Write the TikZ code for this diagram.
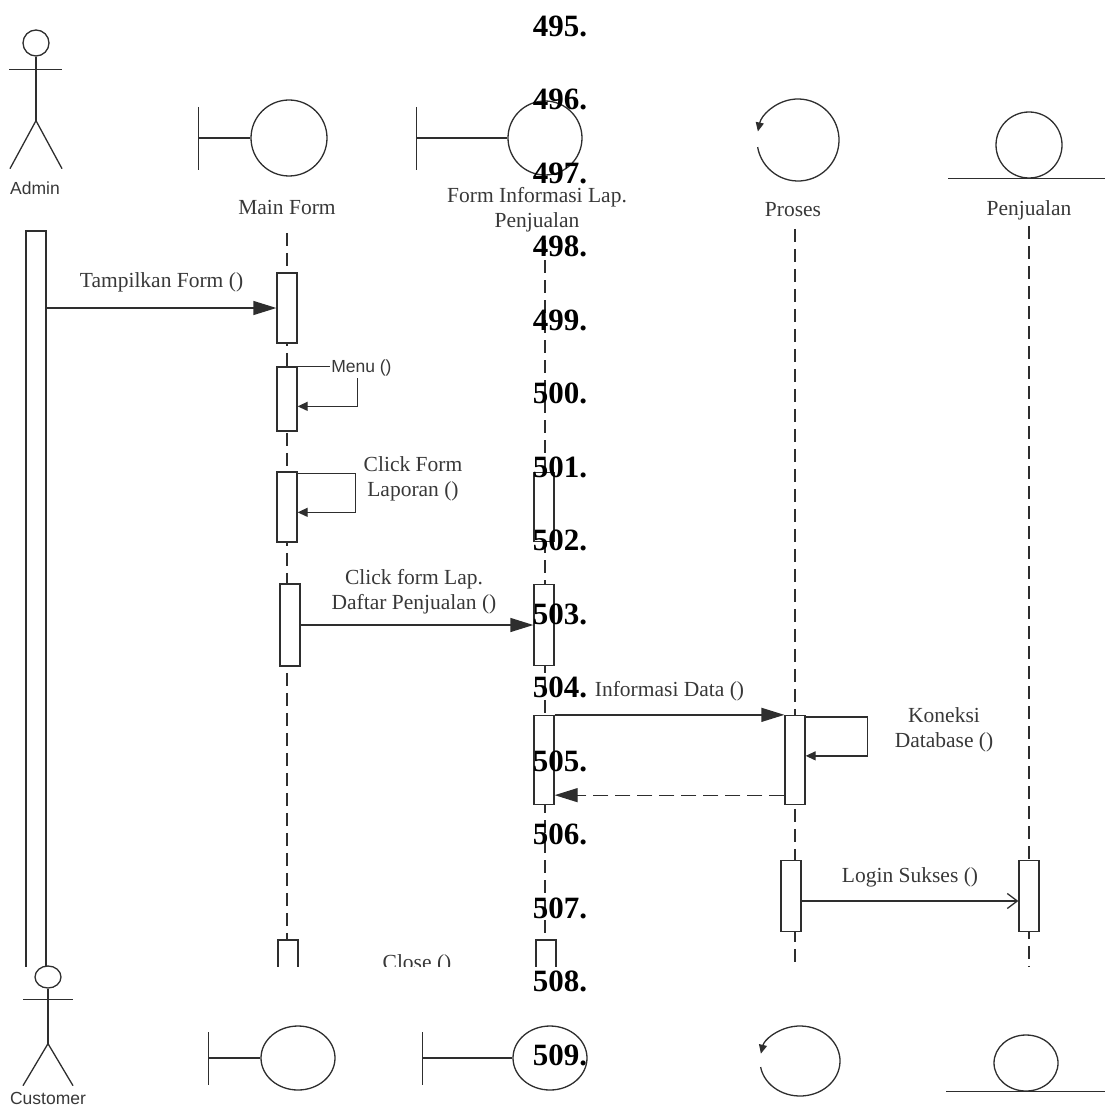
\documentclass[tikz,border=0pt]{standalone}
\usepackage{fontspec}
\setmainfont{Liberation Serif}
\setsansfont{Liberation Sans}
\usepackage{tikz}
\usetikzlibrary{arrows.meta,shapes.geometric}

\begin{document}
\begin{tikzpicture}[x=1pt,y=-1pt,line width=1.3pt,color=black!82,
                    >={Triangle[length=23pt,width=14pt]},node distance=73.5pt]
\tikzstyle{lbl}=[text=black!78,inner sep=1pt,align=center]
\tikzstyle{sanslbl}=[text=black!78,inner sep=1pt,font=\sffamily\fontsize{17.5pt}{20pt}\selectfont]
\tikzstyle{act}=[draw,fill=white,minimum width=20pt,inner sep=0pt]
\tikzstyle{pgnum}=[text=black,inner sep=0pt,font=\bfseries\fontsize{31pt}{36pt}\selectfont]
\tikzstyle{life}=[line width=1.1pt,dash pattern=on 13pt off 7pt]
\tikzstyle{self}=[-{Triangle[length=10pt,width=9pt]}]
\tikzstyle{procarr}=[-{Triangle[length=9pt,width=8pt]}]
\tikzset{font=\fontsize{21.5pt}{25pt}\selectfont}

\useasboundingbox (0,0) rectangle (1104,1107);

        % admin actor
        \node[draw,circle,minimum size=26pt,inner sep=0pt]        (admh) at (36,43) {};
        \draw (admh.south) -- ++(0,64) coordinate (admhip);
        \draw ([xshift=-27pt,yshift=-13pt]admh.south) -- ++(53,0);
        \draw (admhip) ++(-26,48) -- (admhip) -- ++(26,48);
        \node[sanslbl]                                             (adml) at (35,188) {Admin};

        % main form boundary
        \node[draw,circle,minimum size=76pt,inner sep=0pt]        (mfc)  at (289,138) {};
        \draw (mfc.west) -- ++(-52,0) coordinate (mfb);
        \draw (mfb) ++(0,-31) -- ++(0,63);
        \node[lbl]                                                 (mfl)  at (287,207) {Main Form};

        % form informasi boundary
        \node[draw,circle,minimum size=74pt,inner sep=0pt]        (fic)  at (545,138) {};
        \draw (fic.west) -- ++(-91,0) coordinate (fib);
        \draw (fib) ++(0,-31) -- ++(0,63);
        \node[lbl]                                                 (fil)  at (537,210) {Form Informasi Lap.\\Penjualan};

        % proses control
        \node[circle,minimum size=82pt,inner sep=0pt]             (prc)  at (798,140) {};
        \draw[procarr] ([shift={(190:41pt)}]prc.center) arc[start angle=190,end angle=528,radius=41pt];
        \node[lbl]                                                 (prl)  at (793,210) {Proses};

        % penjualan entity
        \node[draw,circle,minimum size=66pt,inner sep=0pt]        (pjc)  at (1029,145) {};
        \draw (pjc.south) ++(-81,0) -- ++(160,0);
        \node[lbl]                                                 (pjl)  at (1029,210) {Penjualan};

\begin{scope}
        \clip (0,0) rectangle (1104,966);

        \node[draw,minimum width=20pt,minimum height=760pt,inner sep=0pt] (adm) at (36,611) {};

        \draw[life] ([yshift=-17pt]mfl.south) -- (mfl.south |- adm.south);
        \draw[life] (fic.south |- fil.south) ++(0,6) -- (fic.south |- adm.south);
        \draw[life] ([xshift=2pt,yshift=-10pt]prl.south) -- ([xshift=2pt]prl.south |- adm.south);
        \draw[life] ([yshift=-5pt]pjl.south) -- (pjl.south |- adm.south);

        \node[act,minimum height=70pt]     (m1) at (287,308) {};
        \node[act,minimum height=64pt]     (m2) at (287,399) {};
        \node[act,minimum height=70pt]     (m3) at (287,507) {};
        \node[act,minimum height=82pt]     (m4) at (290,625) {};
        \node[act,minimum height=60pt]     (m5) at (288,970) {};

        \node[act,minimum height=69pt]     (f1) at (544,507) {};
        \node[act,minimum height=81pt]     (f2) at (544,625) {};
        \node[act,minimum height=89pt]     (f3) at (544,760) {};
        \node[act,minimum height=60pt]     (f5) at (546,970) {};

        \node[act,minimum height=89pt]     (p1) at (795,760) {};
        \node[act,minimum height=71pt]     (p2) at (791,896) {};
        \node[act,minimum height=71pt]     (j1) at (1029,896) {};

        \path[->]
        (adm.east |- m1.west)         edge node[lbl,yshift=26pt]  {Tampilkan Form ()}              (m1.west)
        (m4.east)                     edge node[lbl,xshift=-3pt,yshift=33pt] {Click form Lap.\\Daftar Penjualan ()} (f2.west)
        (f3.north east)               edge node[lbl,yshift=24pt]  {Informasi Data ()}              (p1.north west)
        ([yshift=10pt]p1.south west)  edge[dash pattern=on 15pt off 7pt] node {}                  ([yshift=10pt]f3.south east)
        ([yshift=-5pt]p2.east)        edge[-{Straight Barb[length=10pt,width=15pt]}] node[lbl,yshift=24pt] {Login Sukses ()} ([yshift=-5pt]j1.west)
        ; %end path

        \draw[self] (m2.north east) -- ++(60,0) -- ++(0,40) coordinate (mnu) -- (mnu -| m2.east);
        \node[sanslbl,fill=white,anchor=west]     (mnl) at ([xshift=32pt,yshift=-2pt]m2.north east) {Menu ()};

        \draw[self] ([yshift=-2pt]m3.north east) -- ++(58,0) -- ++(0,39) coordinate (cfo) -- (cfo -| m3.east);
        \node[lbl]                                 (cfl) at (413,479) {Click Form\\Laporan ()};

        \draw[self] ([yshift=-2pt]p1.north east) -- ++(62,0) -- ++(0,39) coordinate (kdb) -- (kdb -| p1.east);
        \node[lbl]                                 (kdl) at (944,730) {Koneksi\\Database ()};

        \node[lbl,anchor=base]                     (cls) at (417,969) {Close ()};
\end{scope}

        % customer actor
        \node[draw,ellipse,minimum width=26pt,minimum height=22pt,inner sep=0pt] (cush) at (48,977) {};
        \draw (cush.south) -- ++(0,55) coordinate (cuship);
        \draw ([xshift=-25pt,yshift=-11pt]cush.south) -- ++(50,0);
        \draw (cuship) ++(-25,42) -- (cuship) -- ++(25,42);
        \node[sanslbl]                                             (cusl) at (48,1098) {Customer};

        % bottom heads
        \node[draw,ellipse,minimum width=74pt,minimum height=64pt,inner sep=0pt] (mfc2) at (298,1058) {};
        \draw (mfc2.west) -- ++(-52,0) coordinate (mfb2);
        \draw (mfb2) ++(0,-26) -- ++(0,53);

        \node[draw,ellipse,minimum width=74pt,minimum height=64pt,inner sep=0pt] (fic2) at (550,1058) {};
        \draw (fic2.west) -- ++(-90,0) coordinate (fib2);
        \draw (fib2) ++(0,-26) -- ++(0,53);

        \node[ellipse,minimum width=80pt,minimum height=70pt,inner sep=0pt]      (prc2) at (800,1061) {};
        \draw[procarr] ([shift={(190:40pt and 35pt)}]prc2.center) arc[start angle=190,end angle=528,x radius=40pt,y radius=35pt];

        \node[draw,ellipse,minimum width=64pt,minimum height=56pt,inner sep=0pt] (pjc2) at (1026,1063) {};
        \draw (pjc2.south) ++(-80,0) -- ++(160,0);

        % numbers
        \node[pgnum]                (n495) at (560,26) {495.};
        \node[pgnum]                (n496) [below of=n495] {496.};
        \node[pgnum]                (n497) [below of=n496] {497.};
        \node[pgnum]                (n498) [below of=n497] {498.};
        \node[pgnum]                (n499) [below of=n498] {499.};
        \node[pgnum]                (n500) [below of=n499] {500.};
        \node[pgnum]                (n501) [below of=n500] {501.};
        \node[pgnum]                (n502) [below of=n501] {502.};
        \node[pgnum]                (n503) [below of=n502] {503.};
        \node[pgnum]                (n504) [below of=n503] {504.};
        \node[pgnum]                (n505) [below of=n504] {505.};
        \node[pgnum]                (n506) [below of=n505] {506.};
        \node[pgnum]                (n507) [below of=n506] {507.};
        \node[pgnum]                (n508) [below of=n507] {508.};
        \node[pgnum]                (n509) [below of=n508] {509.};

\end{tikzpicture}
\end{document}
